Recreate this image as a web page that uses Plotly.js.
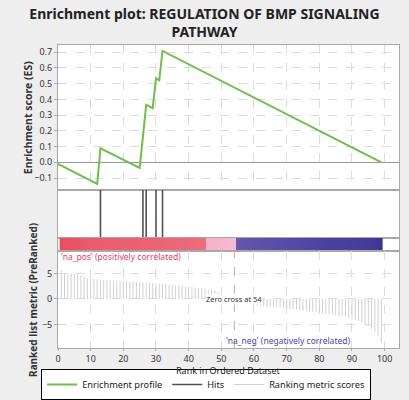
<!DOCTYPE html>
<html>
<head>
<meta charset="utf-8">
<script src="https://cdn.plot.ly/plotly-3.0.1.min.js"></script>
<style>
  html, body { margin: 0; padding: 0; background: #eeeeee; }
  #chart { width: 409px; height: 400px; }
</style>
</head>
<body>
<div id="chart"></div>
<script>
// ---- Data ----
const chartTitle = 'Enrichment plot: REGULATION OF BMP SIGNALING<br>PATHWAY';
const esTitle = 'Enrichment score (ES)';
const metricTitle = 'Ranked list metric (PreRanked)';
const rankTitle = 'Rank in Ordered Dataset';

// Running enrichment score: vertices of the profile (rank, ES)
const esRanks  = [0, 12, 13, 25, 26, 27, 29, 30, 31, 32, 99];
const esValues = [-0.01, -0.138, 0.089, -0.036, 0.162, 0.365, 0.344, 0.534, 0.521, 0.708, 0.0];

// Ranks of the gene-set members (hits)
const hitRanks = [13, 26, 27, 30, 32];

// Ranked list metric, ranks 1..99
const metricValues = [
  5.6, 5.1, 5.0, 5.0, 4.9, 4.9, 4.7, 4.4, 4.1, 4.0,
  3.9, 3.8, 3.8, 3.7, 3.7, 3.6, 3.6, 3.6, 3.6, 3.5,
  3.5, 3.4, 3.4, 3.3, 3.3, 3.2, 3.2, 3.1, 3.1, 3.1,
  3.0, 3.0, 2.9, 2.8, 2.8, 2.7, 2.6, 2.6, 2.5, 2.4,
  2.3, 2.2, 2.1, 2.1, 2.0, 1.9, 1.8, 1.6, 1.4, 1.2,
  0.9, 0.6, 0.3, 0.05, -0.4, -0.7, -0.9, -1.0, -1.1, -1.2,
  -1.3, -1.4, -1.4, -1.5, -1.5, -1.6, -1.7, -1.7, -1.8, -1.9,
  -2.0, -2.0, -2.1, -2.2, -2.3, -2.3, -2.4, -2.5, -2.6, -2.7,
  -2.8, -2.9, -3.0, -3.1, -3.2, -3.3, -3.4, -3.5, -3.7, -3.9,
  -4.1, -4.3, -4.6, -4.9, -5.3, -5.8, -6.3, -7.2, -8.6
];
const metricRanks = metricValues.map((v, i) => i + 1);
const zeroCross = 54;

const posLabel = "'na_pos' (positively correlated)";
const negLabel = "'na_neg' (negatively correlated)";
const zeroLabel = 'Zero cross at ' + zeroCross;

const xTicks = [0, 10, 20, 30, 40, 50, 60, 70, 80, 90, 100];
const esTicks = [-0.1, 0.0, 0.1, 0.2, 0.3, 0.4, 0.5, 0.6, 0.7];
const metricTicks = [-5, 0, 5];

// ---- Traces ----
const FONT = 'Noto Sans, DejaVu Sans, sans-serif';

const esTrace = {
  type: 'scatter', mode: 'lines', name: 'Enrichment profile',
  x: esRanks, y: esValues, xaxis: 'x', yaxis: 'y',
  line: { color: '#6cc04a', width: 2 }, hoverinfo: 'skip'
};

const hx = [], hy = [];
hitRanks.forEach(r => { hx.push(r, r, null); hy.push(0, 1, null); });
const hitTrace = {
  type: 'scatter', mode: 'lines', name: 'Hits',
  x: hx, y: hy, xaxis: 'x2', yaxis: 'y2',
  line: { color: '#505050', width: 1.6 }, hoverinfo: 'skip'
};

const mx = [], my = [];
metricRanks.forEach((r, i) => { mx.push(r, r, null); my.push(0, metricValues[i], null); });
const metricTrace = {
  type: 'scatter', mode: 'lines', name: 'Ranking metric scores',
  x: mx, y: my, xaxis: 'x4', yaxis: 'y4',
  line: { color: '#d0d0d0', width: 1 }, hoverinfo: 'skip'
};

const heatTrace = {
  type: 'heatmap', x: metricRanks, y: [0], z: [metricValues],
  xaxis: 'x3', yaxis: 'y3', showscale: false, hoverinfo: 'skip',
  zmin: -8.6, zmax: 5.6,
  colorscale: [
    [0.0, '#3f3594'],
    [0.40, '#4c409f'],
    [0.59, '#6a5cb4'],
    [0.60, '#f6bcd4'],
    [0.742, '#f5b4cb'],
    [0.745, '#ee6c7d'],
    [1.0, '#ea4c5e']
  ],
  showlegend: false
};

// ---- Layout ----
const xRange = [0, 104.4];
const gridCol = '#dcdcdc';
const lineCol = '#a8a8a8';
const tickFont = { family: FONT, size: 9, color: '#333333' };

function xa(extra) {
  return Object.assign({
    range: xRange, showline: true, mirror: true, linecolor: lineCol, linewidth: 1,
    zeroline: false, showticklabels: false, ticks: '', fixedrange: true
  }, extra);
}

const layout = {
  width: 409, height: 400,
  margin: { l: 58, r: 10, t: 45, b: 52, autoexpand: false },
  paper_bgcolor: '#eeeeee', plot_bgcolor: '#ffffff',
  font: { family: FONT, size: 10, color: '#222222' },
  title: {
    text: chartTitle, x: 0.5, xanchor: 'center', xref: 'container',
    y: 0.953, yanchor: 'middle', yref: 'container',
    font: { family: FONT, size: 14, color: '#222222', weight: 'bold' }
  },
  showlegend: true,
  legend: {
    orientation: 'h', xref: 'container', x: 0.504, xanchor: 'center',
    yref: 'container', y: 0.0, yanchor: 'bottom',
    bgcolor: '#ffffff', bordercolor: '#000000', borderwidth: 1,
    font: { family: FONT, size: 9.2, color: '#222222' },
    tracegroupgap: 0, itemwidth: 30
  },
  xaxis: xa({ anchor: 'y', showgrid: true, gridcolor: gridCol, griddash: 'dash', tickvals: xTicks }),
  yaxis: {
    domain: [0.5215, 1], range: [-0.176, 0.746], anchor: 'x',
    tickvals: esTicks, tickformat: '.1f', tickfont: tickFont,
    ticks: 'outside', ticklen: 3, tickcolor: lineCol,
    showgrid: true, gridcolor: gridCol, griddash: 'dash',
    zeroline: true, zerolinecolor: '#9a9a9a', zerolinewidth: 1,
    showline: true, mirror: true, linecolor: lineCol,
    fixedrange: true
  },
  xaxis2: xa({ anchor: 'y2', showgrid: false }),
  yaxis2: { domain: [0.363, 0.5215], range: [0, 1], anchor: 'x2', showticklabels: false,
            showgrid: false, zeroline: false, showline: true, mirror: true, linecolor: lineCol, ticks: '' },
  xaxis3: xa({ anchor: 'y3', showgrid: false }),
  yaxis3: { domain: [0.3201, 0.363], range: [-0.5, 0.5], anchor: 'x3', showticklabels: false,
            showgrid: false, zeroline: false, showline: true, mirror: true, linecolor: lineCol, ticks: '' },
  xaxis4: xa({
    anchor: 'y4', showgrid: true, gridcolor: gridCol, griddash: 'dash',
    tickvals: xTicks, showticklabels: true, tickfont: tickFont,
    ticks: 'outside', ticklen: 2, tickcolor: lineCol
  }),
  yaxis4: {
    domain: [0, 0.3201], range: [-9.6, 9.4], anchor: 'x4',
    tickvals: metricTicks, tickfont: tickFont,
    ticks: 'outside', ticklen: 3, tickcolor: lineCol,
    showgrid: true, gridcolor: gridCol, griddash: 'dash', zeroline: false,
    showline: true, mirror: true, linecolor: lineCol,
    fixedrange: true
  },
  shapes: [{
    type: 'line', xref: 'x4', yref: 'y4 domain', x0: zeroCross, x1: zeroCross, y0: 0, y1: 1,
    line: { color: '#b0b0b0', width: 1, dash: 'dash' }
  }],
  annotations: [
    { text: esTitle, textangle: -90, xref: 'paper', yref: 'y domain', x: -0.086, y: 0.5,
      xanchor: 'center', yanchor: 'middle', showarrow: false,
      font: { family: FONT, size: 10.5, color: '#333333', weight: 'bold' } },
    { text: metricTitle, textangle: -90, xref: 'paper', yref: 'y4 domain', x: -0.075, y: 0.5,
      xanchor: 'center', yanchor: 'middle', showarrow: false,
      font: { family: FONT, size: 10, color: '#333333', weight: 'bold' } },
    { text: rankTitle, xref: 'x4 domain', yref: 'paper', x: 0.5, y: -0.0753,
      xanchor: 'center', yanchor: 'middle', showarrow: false, borderpad: 0,
      font: { family: FONT, size: 9, color: '#222222' } },
    { text: posLabel, xref: 'x4 domain', yref: 'y4', x: 0.003, y: 8.4, xanchor: 'left', yanchor: 'middle',
      showarrow: false, font: { family: FONT, size: 8.5, color: '#f0405a' } },
    { text: zeroLabel, xref: 'x4', yref: 'y4', x: zeroCross, y: 0, xanchor: 'center', yanchor: 'middle',
      showarrow: false, bgcolor: 'rgba(255,255,255,0.85)', borderpad: 0,
      font: { family: FONT, size: 7.5, color: '#333333' } },
    { text: negLabel, xref: 'x4', yref: 'y4', x: 70.5, y: -8.2, xanchor: 'center', yanchor: 'middle',
      showarrow: false, font: { family: FONT, size: 8.5, color: '#4a3fb0' } }
  ]
};

Plotly.newPlot('chart', [esTrace, hitTrace, metricTrace, heatTrace], layout,
  { displayModeBar: false, staticPlot: true });
</script>
</body>
</html>
